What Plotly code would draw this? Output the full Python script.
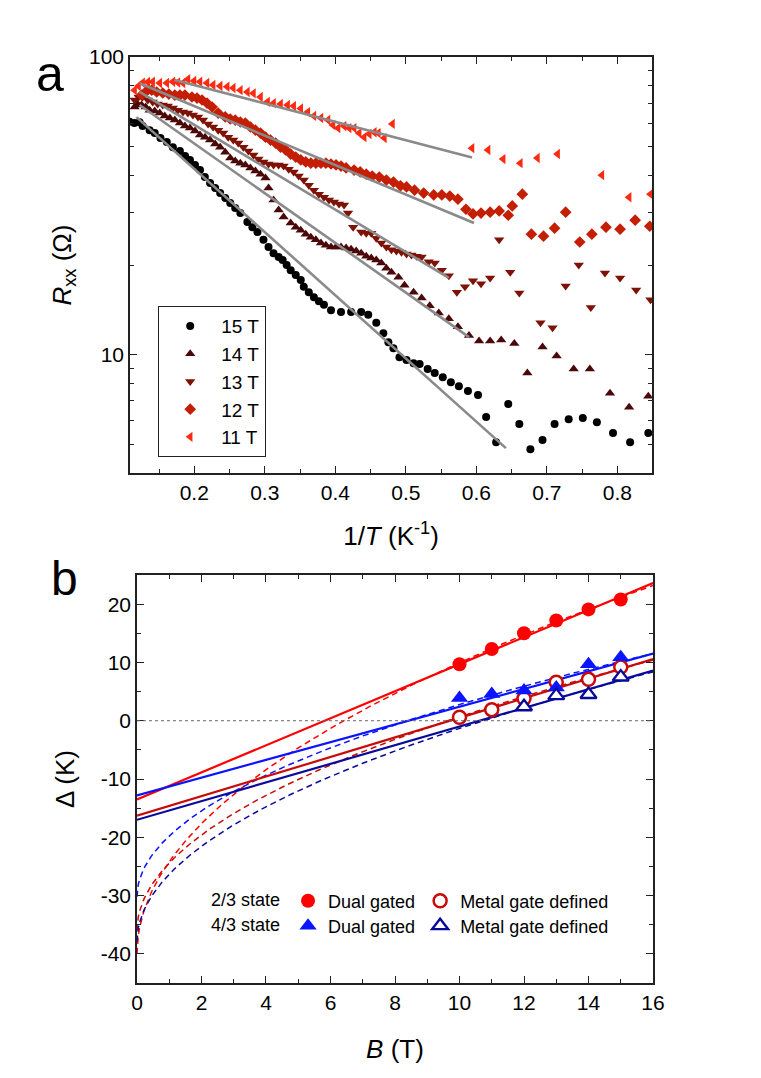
import numpy as np
import plotly.graph_objects as go

FONT = "Liberation Sans, Arial, sans-serif"

# ---------------- Panel a data (1/T in K^-1, Rxx in Ohm) ----------------
x15 = [0.108, 0.115, 0.1225, 0.1267, 0.1367, 0.1439, 0.152, 0.161, 0.1696, 0.1796, 0.187, 0.1939,
       0.201, 0.2081, 0.215, 0.2224, 0.2296, 0.2367, 0.2439, 0.251, 0.258, 0.2653, 0.2753, 0.2824,
       0.2896, 0.2981, 0.3053, 0.3124, 0.3196, 0.3253, 0.331, 0.3367, 0.3439, 0.351, 0.3553, 0.3624,
       0.3696, 0.3767, 0.3839, 0.3939, 0.4081, 0.4224, 0.4367, 0.4467, 0.4581, 0.4681, 0.4753, 0.4824,
       0.491, 0.501, 0.511, 0.5196, 0.531, 0.541, 0.5524, 0.5639, 0.5753, 0.5881, 0.6024, 0.6139,
       0.6281, 0.6453, 0.661, 0.6767, 0.6939, 0.711, 0.731, 0.751, 0.771, 0.7939, 0.8181, 0.8439]
R15 = [60.6, 60.0, 60.4, 58.6, 56.8, 55.5, 53.4, 51.8, 49.8, 48.3, 46.5, 45.1,
       43.4, 41.7, 39.5, 37.7, 36.3, 34.9, 33.6, 32.3, 31.1, 29.9, 27.9, 26.8,
       25.8, 24.3, 23.0, 21.9, 21.3, 20.8, 20.0, 19.2, 18.5, 17.8, 16.9, 16.2,
       15.6, 15.1, 14.7, 14.1, 13.9, 13.9, 13.9, 13.6, 12.8, 11.8, 11.0, 10.5,
       9.8, 9.6, 9.36, 9.3, 8.94, 8.67, 8.4, 8.08, 7.83, 7.54, 7.31, 6.17,
       5.08, 6.82, 5.84, 4.81, 5.16, 5.84, 6.07, 6.12, 5.93, 5.45, 5.08, 5.45]

x14 = [0.1153, 0.1196, 0.1253, 0.131, 0.1367, 0.1439, 0.151, 0.1581, 0.1653, 0.1724, 0.1796, 0.1867,
       0.1939, 0.201, 0.2081, 0.2153, 0.2224, 0.2296, 0.2367, 0.2439, 0.251, 0.2581, 0.2653, 0.2724,
       0.2796, 0.2867, 0.2939, 0.301, 0.3053, 0.3124, 0.3196, 0.3267, 0.3367, 0.3439, 0.351, 0.3581,
       0.3653, 0.3724, 0.3796, 0.3867, 0.3939, 0.401, 0.4081, 0.4153, 0.4224, 0.4296, 0.4367, 0.4439,
       0.451, 0.4581, 0.4653, 0.4724, 0.4796, 0.4896, 0.4981, 0.511, 0.5224, 0.5339, 0.5467, 0.561,
       0.5739, 0.5896, 0.6039, 0.6196, 0.6353, 0.6539, 0.6724, 0.6939, 0.7139, 0.7381, 0.761, 0.7896,
       0.8167, 0.8439]
R14 = [67.9, 69.5, 69.0, 67.9, 66.3, 65.8, 64.8, 63.4, 62.4, 61.4, 60.0, 58.6,
       57.7, 56.4, 54.7, 53.8, 52.6, 51.0, 49.8, 47.9, 45.8, 44.7, 44.0, 43.4,
       42.4, 41.4, 40.4, 39.2, 36.3, 33.1, 30.6, 29.0, 27.7, 26.8, 26.2, 25.4,
       24.8, 24.3, 23.7, 23.3, 23.0, 23.0, 23.0, 22.8, 22.6, 22.3, 21.9, 21.4,
       21.1, 20.8, 20.3, 19.5, 18.9, 18.2, 17.1, 16.2, 15.5, 14.6, 13.8, 13.2,
       12.4, 11.6, 11.1, 11.1, 11.2, 10.9, 8.67, 10.6, 9.89, 8.94, 8.94, 7.42,
       6.66, 7.25]

x13 = [0.1153, 0.121, 0.1267, 0.134, 0.141, 0.1481, 0.1553, 0.1624, 0.1696, 0.1767, 0.184, 0.191,
       0.1981, 0.2053, 0.2124, 0.2196, 0.2267, 0.2339, 0.241, 0.2481, 0.2553, 0.2624, 0.2696, 0.2767,
       0.2839, 0.291, 0.2981, 0.3053, 0.3124, 0.3196, 0.3267, 0.3339, 0.341, 0.3481, 0.3553, 0.3624,
       0.3696, 0.3767, 0.3839, 0.391, 0.3981, 0.4053, 0.4124, 0.4181, 0.4253, 0.4367, 0.4439, 0.451,
       0.4581, 0.4653, 0.4724, 0.4796, 0.4867, 0.4939, 0.501, 0.5081, 0.5153, 0.5224, 0.5324, 0.541,
       0.551, 0.561, 0.5724, 0.5839, 0.5953, 0.6067, 0.6196, 0.6324, 0.6481, 0.661, 0.691, 0.7081,
       0.7267, 0.7453, 0.7624, 0.7824, 0.8039, 0.8267, 0.8470]
R13 = [71.7, 73.4, 73.4, 71.7, 70.6, 69.5, 69.0, 68.4, 67.4, 66.3, 65.3, 64.8,
       63.8, 62.9, 61.4, 59.6, 58.2, 56.8, 55.5, 53.8, 52.6, 51.4, 49.8, 48.3,
       46.9, 45.4, 44.4, 43.7, 43.4, 43.4, 43.0, 42.0, 41.1, 39.8, 38.6, 37.1,
       35.7, 34.6, 33.8, 33.1, 32.6, 32.1, 31.8, 29.9, 26.8, 25.8, 25.6, 25.6,
       24.6, 23.7, 23.0, 22.5, 22.3, 22.1, 21.8, 21.6, 21.4, 21.3, 20.5, 20.3,
       19.2, 18.4, 16.2, 16.9, 17.7, 17.3, 18.1, 24.3, 18.9, 16.1, 12.8, 12.3,
       17.0, 20.0, 14.4, 18.8, 18.1, 16.5, 15.3]

x12 = [0.1253, 0.1325, 0.1396, 0.1467, 0.1553, 0.1639, 0.1724, 0.1796, 0.1867, 0.1967, 0.2039, 0.211,
       0.2181, 0.2253, 0.2339, 0.2439, 0.251, 0.2581, 0.2653, 0.2724, 0.2796, 0.2867, 0.2939, 0.301,
       0.3081, 0.3153, 0.3224, 0.3296, 0.3367, 0.3439, 0.351, 0.3581, 0.3653, 0.3724, 0.3796, 0.3867,
       0.3939, 0.401, 0.4081, 0.4153, 0.4267, 0.4353, 0.4439, 0.4524, 0.4624, 0.4724, 0.4824, 0.4924,
       0.501, 0.5124, 0.5253, 0.5396, 0.551, 0.5624, 0.5739, 0.5853, 0.5953, 0.6067, 0.6196, 0.6324,
       0.6453, 0.651, 0.6653, 0.6781, 0.6953, 0.711, 0.7267, 0.7467, 0.7639, 0.7839, 0.8039, 0.8253,
       0.8460]
R12 = [74.5, 76.9, 77.4, 76.3, 75.7, 75.1, 74.5, 74.5, 74.5, 73.4, 72.8, 71.7,
       70.0, 67.9, 64.8, 62.9, 61.9, 61.4, 60.5, 60.0, 58.2, 56.8, 55.5, 53.8,
       52.6, 51.4, 49.8, 48.7, 47.2, 46.1, 45.1, 44.4, 44.0, 44.0, 44.0, 44.0,
       43.7, 43.4, 43.0, 42.4, 41.7, 41.1, 40.4, 39.8, 39.5, 38.6, 38.0, 36.9,
       36.6, 35.7, 34.9, 34.4, 34.4, 34.1, 33.3, 30.8, 29.7, 29.9, 30.1, 30.4,
       29.4, 31.6, 34.6, 25.4, 25.0, 26.6, 30.1, 23.9, 25.4, 26.8, 26.4, 28.3,
       27.0]

x11 = [0.1153, 0.121, 0.1267, 0.134, 0.141, 0.151, 0.161, 0.1696, 0.1767, 0.184, 0.191, 0.1996,
       0.2081, 0.218, 0.2267, 0.2367, 0.2467, 0.2553, 0.2653, 0.2753, 0.2839, 0.2939, 0.3039, 0.3124,
       0.3224, 0.3324, 0.341, 0.351, 0.361, 0.3696, 0.3796, 0.3896, 0.3967, 0.4039, 0.4124, 0.4196,
       0.4267, 0.4339, 0.441, 0.4481, 0.4553, 0.461, 0.4696, 0.481, 0.5939, 0.6167, 0.6381, 0.6624,
       0.6867, 0.7153, 0.7781, 0.8167, 0.8470]
R11 = [77.4, 79.9, 82.0, 82.4, 82.6, 81.8, 81.8, 82.6, 82.1, 81.8, 84.2, 83.1,
       82.6, 81.8, 80.5, 79.9, 79.5, 78.7, 77.4, 76.3, 75.5, 73.4, 70.7, 70.0,
       69.5, 69.0, 68.4, 67.2, 65.3, 63.4, 62.4, 61.4, 59.1, 57.7, 58.6, 57.7,
       57.7, 55.5, 53.8, 55.1, 55.9, 55.5, 53.4, 59.6, 49.4, 48.7, 45.4, 44.0,
       45.8, 47.2, 40.1, 33.8, 34.6]

# activation fits (end points of the straight lines on the log scale)
fit15_x = [0.118, 0.642]
fit15_R = [62.8, 4.85]
fit14_x = [0.1224, 0.5896]
fit14_R = [69.0, 11.45]
fit13_x = [0.1224, 0.561]
fit13_R = [76.3, 18.1]
fit12_x = [0.1224, 0.5967]
fit12_R = [81.6, 27.7]
fit11_x = [0.172, 0.594]
fit11_R = [83.7, 46.0]

# ---------------- Panel b data (B in T, gap in K) ----------------
B_pts = [10, 11, 12, 13, 14, 15]
gap_dual_23 = [9.7, 12.3, 15.0, 17.2, 19.1, 20.8]
gap_dual_43 = [3.9, 4.6, 5.2, 5.7, 9.7, 10.9]
gap_metal_23 = [0.6, 1.9, 3.8, 6.6, 7.1, 9.2]
B_metal_43 = [12, 13, 14, 15]
gap_metal_43 = [2.4, 4.3, 4.5, 7.5]

# linear fits: slope, intercept  (dual 2/3, dual 4/3, metal 2/3, metal 4/3)
lin_slope = [2.32, 1.52, 1.68, 1.60]
lin_icpt = [-13.5, -12.8, -16.3, -17.0]
# sqrt(B) fits: Delta = a*sqrt(B) - b
sq_a = [15.8, 10.43, 11.6, 11.57]
sq_b = [40.0, 30.2, 36.0, 37.9]
fit_colors = ["#ff0000", "#0a14ff", "#c80a0a", "#0a0a9a"]

fig = go.Figure()

# panel a markers
series = [
    ("15 T", x15, R15, "circle", "#000000", 8),
    ("14 T", x14, R14, "triangle-up", "#4a0808", 9),
    ("13 T", x13, R13, "triangle-down", "#7e1206", 9),
    ("12 T", x12, R12, "diamond", "#c41e04", 9),
    ("11 T", x11, R11, "triangle-left", "#ff2a12", 9),
]
for name, xs, ys, sym, col, sz in series:
    fig.add_trace(go.Scatter(x=xs, y=ys, mode="markers", name=name,
                             marker=dict(symbol=sym, color=col, size=sz, line=dict(width=0)),
                             xaxis="x", yaxis="y", showlegend=True, legend="legend"))
for fx, fr in [(fit15_x, fit15_R), (fit14_x, fit14_R), (fit13_x, fit13_R),
               (fit12_x, fit12_R), (fit11_x, fit11_R)]:
    fig.add_trace(go.Scatter(x=fx, y=fr, mode="lines", line=dict(color="#8a8a8a", width=2.6),
                             xaxis="x", yaxis="y", showlegend=False, hoverinfo="skip"))

# panel b fits
B_grid = np.linspace(0, 16, 401)
for a, b, col in zip(sq_a, sq_b, fit_colors):
    fig.add_trace(go.Scatter(x=B_grid, y=a * np.sqrt(B_grid) - b, mode="lines",
                             line=dict(color=col, width=1.5, dash="6px,4px"),
                             xaxis="x2", yaxis="y2", showlegend=False, hoverinfo="skip"))
for s, c, col in zip(lin_slope, lin_icpt, fit_colors):
    fig.add_trace(go.Scatter(x=[0, 16], y=[c, c + 16 * s], mode="lines",
                             line=dict(color=col, width=2.2),
                             xaxis="x2", yaxis="y2", showlegend=False, hoverinfo="skip"))

# panel b points (legend2 = 2/3 state row, legend3 = 4/3 state row)
fig.add_trace(go.Scatter(x=B_pts, y=gap_dual_23, mode="markers", name="Dual gated",
                         xaxis="x2", yaxis="y2", showlegend=True, legend="legend2",
                         marker=dict(symbol="circle", size=14, color="#ff0000", line=dict(width=0))))
fig.add_trace(go.Scatter(x=B_pts, y=gap_metal_23, mode="markers", name="Metal gate defined",
                         xaxis="x2", yaxis="y2", showlegend=True, legend="legend2",
                         marker=dict(symbol="circle", size=13, color="white",
                                     line=dict(width=2.5, color="#c80a0a"))))
fig.add_trace(go.Scatter(x=B_pts, y=gap_dual_43, mode="markers", name="Dual gated",
                         xaxis="x2", yaxis="y2", showlegend=True, legend="legend3",
                         marker=dict(symbol="triangle-up", size=15, color="#0a14ff", line=dict(width=0))))
fig.add_trace(go.Scatter(x=B_metal_43, y=gap_metal_43, mode="markers", name="Metal gate defined",
                         xaxis="x2", yaxis="y2", showlegend=True, legend="legend3",
                         marker=dict(symbol="triangle-up", size=14, color="white",
                                     line=dict(width=2.3, color="#0a0a9a"))))

axis_common = dict(showline=True, linecolor="#222222", linewidth=1.5, mirror="allticks",
                   ticks="inside", ticklen=7, tickwidth=1.3, tickcolor="#222222",
                   showgrid=False, zeroline=False,
                   tickfont=dict(family=FONT, size=21, color="black"),
                   automargin=False)

row_legend = dict(orientation="h", xanchor="left", yanchor="middle",
                  bgcolor="rgba(0,0,0,0)", borderwidth=0,
                  font=dict(family=FONT, size=18, color="black"),
                  itemwidth=30, tracegroupgap=0)

yticks_b = [-40, -30, -20, -10, 0, 10, 20]
fig.update_layout(
    width=761, height=1078,
    margin=dict(l=0, r=0, t=0, b=0),
    paper_bgcolor="white", plot_bgcolor="white",
    font=dict(family=FONT, color="black"),
    xaxis=dict(domain=[0.1708, 0.8568], range=[0.1088, 0.8492], anchor="y",
               tickvals=[0.2, 0.3, 0.4, 0.5, 0.6, 0.7, 0.8],
               minor=dict(dtick=0.05, tick0=0, ticks="inside", ticklen=4, tickwidth=1.2, tickcolor="#222222"),
               title=dict(text="1/<i>T</i> (K<sup>-1</sup>)", font=dict(family=FONT, size=26), standoff=24),
               **axis_common),
    yaxis=dict(domain=[0.5612, 0.9471], type="log", range=[np.log10(4), 2], anchor="x",
               tickvals=[10, 100], ticktext=["10", "100"],
               minor=dict(tickmode="array",
                          tickvals=[4, 5, 6, 7, 8, 9, 20, 30, 40, 50, 60, 70, 80, 90],
                          ticks="inside", ticklen=4, tickwidth=1.2, tickcolor="#222222"),
               title=dict(text="<i>R</i><sub>xx</sub> (Ω)", font=dict(family=FONT, size=26), standoff=10),
               **axis_common),
    xaxis2=dict(domain=[0.1800, 0.8581], range=[0, 16], anchor="y2",
                tickvals=list(range(0, 17, 2)),
                minor=dict(dtick=1, tick0=0, ticks="inside", ticklen=4, tickwidth=1.2, tickcolor="#222222"),
                title=dict(text="<i>B</i> (T)", font=dict(family=FONT, size=26), standoff=27),
                **axis_common),
    yaxis2=dict(domain=[0.0881, 0.4666], range=[-45, 25], anchor="x2",
                tickvals=yticks_b, ticktext=[str(v) for v in yticks_b],
                minor=dict(dtick=5, tick0=0, ticks="inside", ticklen=4, tickwidth=1.2, tickcolor="#222222"),
                title=dict(text="Δ (K)", font=dict(family=FONT, size=26), standoff=19),
                **axis_common),
    legend=dict(x=158 / 761, y=1 - 306 / 1078, xanchor="left", yanchor="top",
                bgcolor="white", bordercolor="#222222", borderwidth=1.2,
                font=dict(family=FONT, size=19, color="black"),
                itemwidth=52, tracegroupgap=0),
    legend2=dict(x=209 / 761, y=1 - 901 / 1078,
                 title=dict(text="2/3 state", side="left", font=dict(family=FONT, size=18)),
                 **row_legend),
    legend3=dict(x=209 / 761, y=1 - 926 / 1078,
                 title=dict(text="4/3 state", side="left", font=dict(family=FONT, size=18)),
                 **row_legend),
    showlegend=True,
)

# zero line in panel b
fig.add_shape(type="line", xref="x2 domain", yref="y2", x0=0, x1=1, y0=0, y1=0,
              line=dict(color="#666666", width=1, dash="dot"))

# panel labels
fig.add_annotation(text="a", x=50 / 761, y=1 - 74 / 1078, xref="paper", yref="paper",
                   showarrow=False, font=dict(family=FONT, size=50, color="black"),
                   xanchor="center", yanchor="middle")
fig.add_annotation(text="b", x=64 / 761, y=1 - 578 / 1078, xref="paper", yref="paper",
                   showarrow=False, font=dict(family=FONT, size=48, color="black"),
                   xanchor="center", yanchor="middle")

fig.write_html("out.html")
